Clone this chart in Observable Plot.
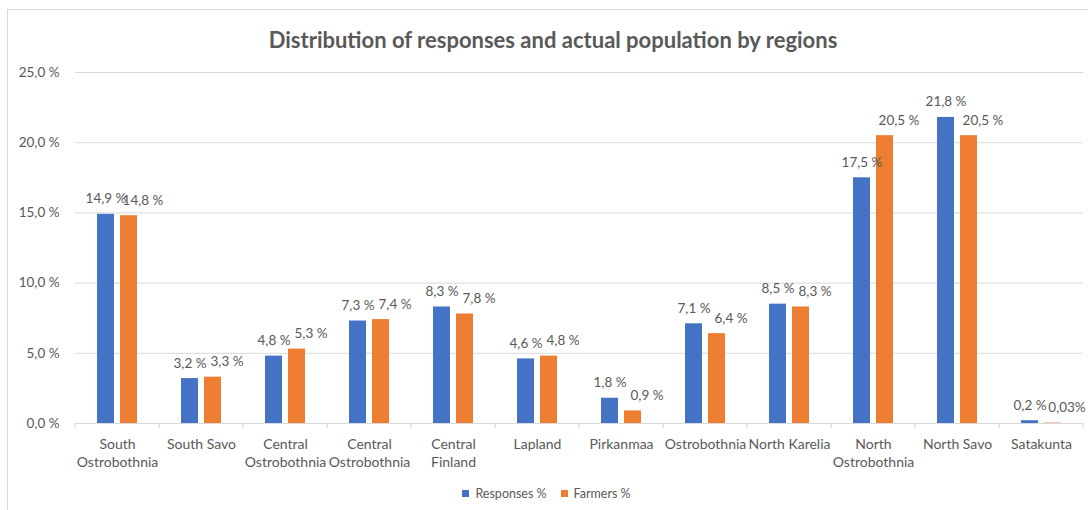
<!DOCTYPE html>
<html>
<head>
<meta charset="utf-8">
<script src="https://cdn.jsdelivr.net/npm/d3@7"></script>
<script src="https://cdn.jsdelivr.net/npm/@observablehq/plot@0.6"></script>
<style>
  html, body { margin: 0; padding: 0; background: #fff; overflow: hidden; }
  body { width: 1088px; height: 510px; position: relative; font-family: Lato, "Noto Sans", sans-serif; color: #595959; }
  #frame { position: absolute; left: 7px; top: 9px; width: 1200px; height: 600px; border: 1px solid #d9d9d9; box-sizing: border-box; }
  #title { position: absolute; left: 0; top: 25px; width: 1106px; text-align: center; font-weight: bold; font-size: 22px; line-height: 30px; color: #595959; }
  #chart { position: absolute; left: 0; top: 0; }
  #legend { position: absolute; left: 0; top: 486px; width: 1093px; display: flex; justify-content: center; gap: 14px; font-size: 12.5px; }
  #legend span.item { display: inline-flex; align-items: center; gap: 6px; }
  #legend span.sw { width: 7px; height: 7px; display: inline-block; }
</style>
</head>
<body>
<div id="frame"></div>
<div id="title">Distribution of responses and actual population by regions</div>
<div id="chart"></div>
<div id="legend"></div>
<script>
// Regions along the x axis (Central Ostrobothnia appears twice in the source table)
const regions = [
  "South\nOstrobothnia", "South Savo", "Central\nOstrobothnia", "Central\nOstrobothnia",
  "Central\nFinland", "Lapland", "Pirkanmaa", "Ostrobothnia", "North Karelia",
  "North\nOstrobothnia", "North Savo", "Satakunta"
];
const series = ["Responses %", "Farmers %"];
const responses = [14.9, 3.2, 4.8, 7.3, 8.3, 4.6, 1.8, 7.1, 8.5, 17.5, 21.8, 0.2];
const farmers   = [14.8, 3.3, 5.3, 7.4, 7.8, 4.8, 0.9, 6.4, 8.3, 20.5, 20.5, 0.03];
const yTicks = [0, 5, 10, 15, 20, 25];
const colors = ["#4472C4", "#ED7D31"];

const rows = regions.flatMap((r, i) => [
  {i, series: series[0], value: responses[i]},
  {i, series: series[1], value: farmers[i]}
]);

const fmtValue = v => v < 0.1
  ? v.toFixed(2).replace(".", ",") + "%"
  : v.toFixed(1).replace(".", ",") + " %";
const fmtAxis = v => v.toFixed(1).replace(".", ",") + " %";

// Short tick marks at the category boundaries below the baseline
const boundaryTicks = (index, scales, values, dims) => {
  const g = document.createElementNS("http://www.w3.org/2000/svg", "g");
  const y0 = scales.y(0);
  for (const x of [0, dims.width - dims.marginLeft - dims.marginRight]) {
    const l = document.createElementNS("http://www.w3.org/2000/svg", "line");
    l.setAttribute("x1", x + dims.marginLeft); l.setAttribute("x2", x + dims.marginLeft);
    l.setAttribute("y1", y0); l.setAttribute("y2", y0 + 5);
    l.setAttribute("stroke", "#d9d9d9");
    g.appendChild(l);
  }
  return g;
};

const labelStyle = {fx: "i", x: "series", y: "value", text: d => fmtValue(d.value), dy: -11, lineAnchor: "bottom", fill: "#595959", fontSize: 13.5};

const chart = Plot.plot({
  width: 1088,
  height: 480,
  marginLeft: 73,
  marginRight: 3,
  marginTop: 72,
  marginBottom: 57,
  style: {fontFamily: "Lato, 'Noto Sans', sans-serif", fontSize: "13.5px", color: "#595959", background: "transparent"},
  fx: {domain: d3.range(regions.length), padding: 0, label: null},
  x: {domain: series, paddingInner: 0.24, paddingOuter: 0.9, axis: null},
  y: {domain: [0, 25], label: null},
  color: {domain: series, range: colors},
  marks: [
    Plot.gridY(yTicks, {stroke: "#d9d9d9", strokeOpacity: 1}),
    Plot.ruleY([0], {stroke: "#d9d9d9"}),
    boundaryTicks,
    Plot.axisY(yTicks, {tickSize: 0, tickPadding: 16, tickFormat: fmtAxis, fill: "#595959", fontSize: 13.5}),
    Plot.axisFx({anchor: "bottom", tickSize: 0, tickPadding: 12, tickFormat: i => regions[i], lineHeight: 1.33, fill: "#595959", fontSize: 14, label: null}),
    Plot.barY(rows, {fx: "i", x: "series", y: "value", fill: "series"}),
    // Responses labels sit centred over their bars; Farmers labels are nudged right
    Plot.text(rows.filter(d => d.series === series[0]), labelStyle),
    Plot.text(rows.filter(d => d.series === series[1]), {...labelStyle, dx: 14})
  ]
});
document.getElementById("chart").appendChild(chart);

// Legend below the plot
const legend = document.getElementById("legend");
series.forEach((s, k) => {
  const item = document.createElement("span");
  item.className = "item";
  const sw = document.createElement("span");
  sw.className = "sw";
  sw.style.background = colors[k];
  item.appendChild(sw);
  item.appendChild(document.createTextNode(s));
  legend.appendChild(item);
});
</script>
</body>
</html>
